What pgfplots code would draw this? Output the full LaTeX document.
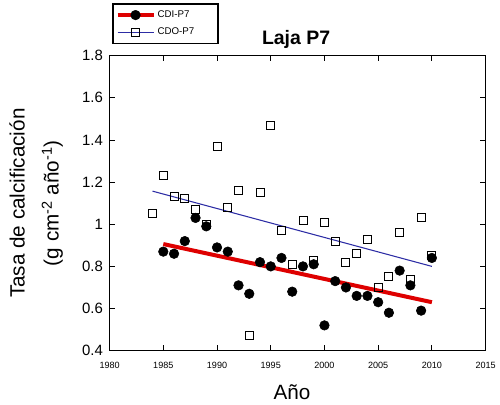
\documentclass[border=0pt]{standalone}
\usepackage{pgfplots}
\pgfplotsset{compat=1.18}
\usepackage{fontspec}
\setmainfont{Liberation Sans}

\definecolor{cdired}{RGB}{222,0,0}
\definecolor{cdoblue}{RGB}{45,45,165}

\begin{document}
\begin{tikzpicture}
    % marco de la figura (500 x 404 px, 1 px = 0.75 pt)
    \path[use as bounding box] (-82.2pt,-40pt) rectangle (292.8pt,263pt);

    \begin{axis}[
        scale only axis,
        width=282pt, height=221.25pt,
        xmin=1980, xmax=2015,
        ymin=0.4, ymax=1.8,
        xtick={1980,1985,...,2015},
        ytick={0.4,0.6,...,1.8},
        /pgf/number format/1000 sep={},
        /pgf/number format/assume math mode=true,
        tick align=inside,
        major tick length=4pt,
        tick style={black, line width=0.6pt},
        axis line style={black, line width=1.1pt},
        xticklabel style={font=\fontsize{6.8}{8}\selectfont, yshift=-5pt},
        yticklabel style={font=\fontsize{11.2}{12}\selectfont, xshift=-1.5pt},
        title={Laja P7},
        title style={font=\fontsize{14.6}{16}\selectfont\bfseries,
            at={(axis description cs:0.496,1.012)}, anchor=base, yshift=0pt},
        xlabel={Año},
        xlabel style={font=\fontsize{15.5}{18}\selectfont,
            at={(axis description cs:0.485,-0.164)}, anchor=base},
        ylabel={Tasa de calcificación\\(g cm\textsuperscript{-2} año\textsuperscript{-1})},
        ylabel style={font=\fontsize{15.5}{25.5}\selectfont, align=center,
            at={(axis description cs:-0.195,0.5)}, anchor=center},
        legend style={
            at={(axis description cs:0.0064,1.178)}, anchor=north west,
            draw=black, line width=1.3pt,
            font=\fontsize{7.3}{8}\selectfont,
            inner xsep=2pt, inner ysep=3.5pt, row sep=3.5pt,
            nodes={text width=42pt, inner sep=1.5pt},
        },
        legend cell align=left,
        legend image code/.code={
            \draw[mark repeat=2, mark phase=2, #1]
                plot coordinates {(0pt,0pt) (13.5pt,0pt) (27pt,0pt)};
        },
    ]
        \addlegendimage{cdired, line width=3pt, mark=*, mark size=3.6pt,
            mark options={black, fill=black, line width=0.4pt}}
        \addlegendentry{CDI-P7}
        \addlegendimage{cdoblue, line width=0.8pt, mark=square, mark size=3pt,
            mark options={black, fill=white, line width=0.7pt}}
        \addlegendentry{CDO-P7}

        % rectas de tendencia
        \addplot[forget plot, cdoblue, line width=0.8pt] coordinates {
            (1984, 1.157) (2010, 0.800)
        };
        \addplot[forget plot, cdired, line width=3pt] coordinates {
            (1985, 0.906) (2010, 0.630)
        };

        % CDO-P7
        \addplot[forget plot, only marks, mark=square, mark size=3pt,
            mark options={black, fill=white, line width=0.7pt}] coordinates {
            (1984, 1.05) (1985, 1.23) (1986, 1.13) (1987, 1.12) (1988, 1.07)
            (1989, 1.00) (1990, 1.37) (1991, 1.08) (1992, 1.16) (1993, 0.47)
            (1994, 1.15) (1995, 1.47) (1996, 0.97) (1997, 0.81) (1998, 1.02)
            (1999, 0.83) (2000, 1.01) (2001, 0.92) (2002, 0.82) (2003, 0.86)
            (2004, 0.93) (2005, 0.70) (2006, 0.75) (2007, 0.96) (2008, 0.74)
            (2009, 1.03) (2010, 0.85)
        };

        % CDI-P7
        \addplot[forget plot, only marks, mark=*, mark size=3.6pt,
            mark options={black, fill=black}] coordinates {
            (1985, 0.87) (1986, 0.86) (1987, 0.92) (1988, 1.03) (1989, 0.99)
            (1990, 0.89) (1991, 0.87) (1992, 0.71) (1993, 0.67) (1994, 0.82)
            (1995, 0.80) (1996, 0.84) (1997, 0.68) (1998, 0.80) (1999, 0.81)
            (2000, 0.52) (2001, 0.73) (2002, 0.70) (2003, 0.66) (2004, 0.66)
            (2005, 0.63) (2006, 0.58) (2007, 0.78) (2008, 0.71) (2009, 0.59)
            (2010, 0.84)
        };
    \end{axis}
\end{tikzpicture}
\end{document}
